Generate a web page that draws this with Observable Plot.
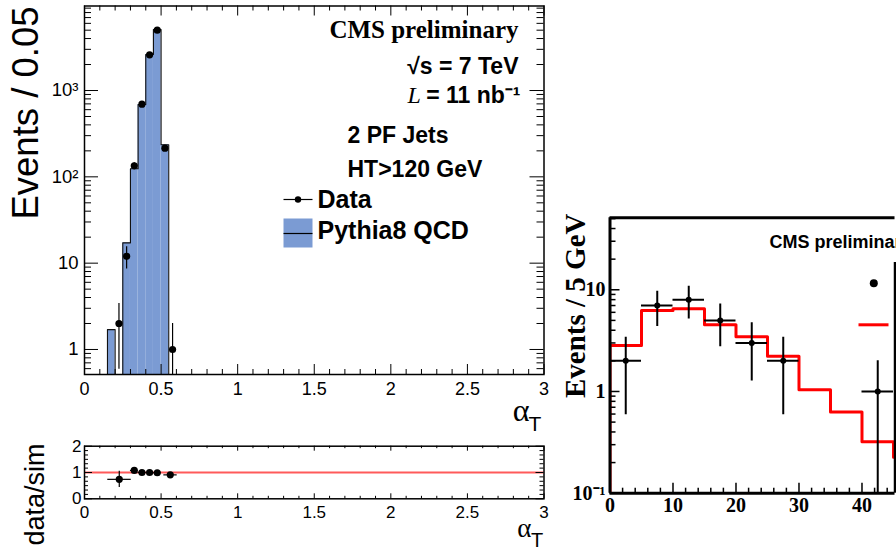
<!DOCTYPE html>
<html><head><meta charset="utf-8">
<script src="https://cdn.jsdelivr.net/npm/d3@7"></script>
<script src="https://cdn.jsdelivr.net/npm/@observablehq/plot@0.6"></script>
<style>
html,body{margin:0;padding:0;background:#fff;}
#wrap{position:relative;width:896px;height:550px;overflow:hidden;background:#fff;}
#wrap svg{position:absolute;left:0;top:0;}
</style></head><body><div id="wrap"></div>
<script>
// ---------------- data: main alpha_T histogram ----------------
const mcBinLow   = [0.15, 0.20, 0.25, 0.30, 0.35, 0.40, 0.45, 0.50];
const mcCounts   = [1.7, 0, 17.2, 124, 689, 2610, 5090, 235];
const binWidth   = 0.05;
const dataAlpha  = [0.225, 0.275, 0.325, 0.375, 0.425, 0.475, 0.525, 0.575];
const dataCounts = [2, 12, 134, 694, 2590, 5000, 215, 1];
const dataErr    = [1.41, 3.46, 11.6, 26.3, 50.9, 70.7, 14.7, 1.0];
// ---------------- data: ratio panel ----------------
const ratioX    = [0.227, 0.325, 0.375, 0.425, 0.475, 0.56];
const ratioY    = [0.74, 1.08, 1.0, 1.0, 0.99, 0.91];
const ratioYErr = [0.31, 0.1, 0.04, 0.02, 0.015, 0.06];
const ratioXLo  = [0.152, 0.30, 0.35, 0.40, 0.45, 0.518];
const ratioXHi  = [0.305, 0.35, 0.40, 0.45, 0.50, 0.605];
// ---------------- data: right panel (Events / 5 GeV) ----------------
const rBinLow   = [0, 5, 10, 15, 20, 25, 30, 35, 40, 45];
const rMC       = [2.83, 6.25, 6.5, 4.53, 3.45, 2.22, 1.04, 0.627, 0.32, 0.226];
const rBinWidth = 5;
const rDataX    = [2.5, 7.5, 12.5, 17.5, 22.5, 27.5, 42.5];
const rDataY    = [2, 7, 8, 5, 3, 2, 1];
const rDataErr  = [1.41, 2.65, 2.83, 2.24, 1.73, 1.41, 1.0];
// ---------------- tick labels ----------------
const xTicksMain = [0, 0.5, 1, 1.5, 2, 2.5, 3];
const xTickLabelsMain = ["0", "0.5", "1", "1.5", "2", "2.5", "3"];
const yTicksMain = [1, 10, 100, 1000];
const yTickLabelsMain = ["1", "10", "10²", "10³"];
const yTicksRatio = [0, 1, 2];
const yTickLabelsRatio = ["0", "1", "2"];
const xTicksRight = [0, 10, 20, 30, 40];
const xTickLabelsRight = ["0", "10", "20", "30", "40"];
const yTicksRight = [0.1, 1, 10];
const yTickLabelsRight = ["10⁻¹", "1", "10"];

// ---------------- styling ----------------
const W = 896, H = 550;
const sans = "'Liberation Sans', Arial, Helvetica, sans-serif";
const serif = "'Liberation Serif', 'Times New Roman', serif";
const blue = "#7b9bd3";
const svgStyle = "position:absolute;left:0;top:0;background:transparent;max-width:none;overflow:hidden;";
const wrap = document.getElementById("wrap");

function logMinor(lo, hi) {
  const out = [];
  for (let e = -2; e <= 4; e++) for (let m = 2; m <= 9; m++) {
    const v = m * Math.pow(10, e);
    if (v > lo && v < hi) out.push(v);
  }
  return out;
}
function linTicks(lo, hi, step, skip) {
  const out = [];
  const n = Math.round((hi - lo) / step);
  for (let i = 0; i <= n; i++) {
    const v = +(lo + i * step).toFixed(6);
    if (!skip || !skip.some(s => Math.abs(s - v) < 1e-9)) out.push(v);
  }
  return out;
}
const hLine = w => ({draw(ctx) { ctx.moveTo(-w / 2, 0); ctx.lineTo(w / 2, 0); }});
const boxSym = (w, h) => ({draw(ctx) { ctx.rect(-w / 2, -h / 2, w, h); }});
const txt = d => d;

// ================= MAIN PANEL =================
{
  const L = 84, R = 543.5, T = 5.5, B = 374;
  const fw = R - L, fh = B - T;
  const yMin = 0.513, yMax = 9530;
  const bins = mcBinLow.map((lo, i) => ({lo, hi: lo + binWidth, v: mcCounts[i]})).filter(d => d.v > 0);
  const outline = [{x: mcBinLow[0], y: yMin}]
    .concat(mcBinLow.map((lo, i) => ({x: lo, y: mcCounts[i] > 0 ? mcCounts[i] : yMin})))
    .concat([{x: mcBinLow[mcBinLow.length - 1] + binWidth, y: yMin}]);
  const pts = dataAlpha.map((x, i) => ({x, y: dataCounts[i],
    lo: Math.max(dataCounts[i] - dataErr[i], yMin), hi: dataCounts[i] + dataErr[i]}));
  const xMinor = linTicks(0, 3, 0.1, xTicksMain);
  const yMinor = logMinor(yMin, yMax);
  const yLab = yTicksMain.map((v, i) => ({v, t: yTickLabelsMain[i]}));
  const xLab = xTicksMain.map((v, i) => ({v, t: xTickLabelsMain[i]}));
  const svg = Plot.plot({
    width: W, height: H,
    marginLeft: L, marginRight: W - R, marginTop: T, marginBottom: H - B,
    x: {domain: [0, 3], axis: null},
    y: {type: "log", domain: [yMin, yMax], axis: null},
    style: svgStyle,
    marks: [
      Plot.rect(bins, {x1: "lo", x2: "hi", y1: () => yMin, y2: "v", fill: blue, clip: true}),
      Plot.line(outline, {x: "x", y: "y", curve: "step-after", stroke: "#111", strokeWidth: 1.1, clip: true}),
      Plot.ruleX(pts, {x: "x", y1: "lo", y2: "hi", stroke: "black", strokeWidth: 1.2, clip: true}),
      Plot.dot(pts, {x: "x", y: "y", r: 3.6, fill: "black", clip: true}),
      // ticks (inward)
      Plot.ruleX(xTicksMain, {insetTop: fh - 10, stroke: "black"}),
      Plot.ruleX(xMinor, {insetTop: fh - 5, stroke: "black"}),
      Plot.ruleX(xTicksMain, {insetBottom: fh - 10, stroke: "black"}),
      Plot.ruleX(xMinor, {insetBottom: fh - 5, stroke: "black"}),
      Plot.ruleY(yTicksMain, {insetRight: fw - 14, stroke: "black"}),
      Plot.ruleY(yMinor, {insetRight: fw - 7, stroke: "black"}),
      Plot.ruleY(yTicksMain, {insetLeft: fw - 14, stroke: "black"}),
      Plot.ruleY(yMinor, {insetLeft: fw - 7, stroke: "black"}),
      Plot.frame({stroke: "black", strokeWidth: 1.5}),
      // tick labels
      Plot.text(xLab, {x: "v", text: "t", frameAnchor: "bottom", dy: 15, lineAnchor: "middle", fontSize: 18, fontFamily: sans, fill: "black"}),
      Plot.text(yLab, {y: "v", text: "t", frameAnchor: "left", dx: -6, textAnchor: "end", lineAnchor: "middle", fontSize: 18.5, fontFamily: sans, fill: "black"}),
      // axis titles
      Plot.text(["Events / 0.05"], {text: txt, frameAnchor: "top-left", dx: 37.5 - L, dy: 6 - T, rotate: -90, textAnchor: "end", lineAnchor: "bottom", fontSize: 36.5, fontFamily: sans, fill: "black"}),
      Plot.text(["α"], {text: txt, frameAnchor: "bottom-right", dx: 529 - R, dy: 420 - B, textAnchor: "end", lineAnchor: "bottom", fontSize: 32, fontFamily: serif, fill: "black"}),
      Plot.text(["T"], {text: txt, frameAnchor: "bottom-right", dx: 528 - R, dy: 430 - B, textAnchor: "start", lineAnchor: "bottom", fontSize: 21, fontFamily: sans, fill: "black"}),
      // annotations
      Plot.text(["CMS preliminary"], {text: txt, frameAnchor: "top-right", dx: 518 - R, dy: 37.5 - T, textAnchor: "end", lineAnchor: "bottom", fontSize: 25, fontWeight: "bold", fontFamily: serif, fill: "black"}),
      Plot.text(["√s = 7 TeV"], {text: txt, frameAnchor: "top-right", dx: 518 - R, dy: 73 - T, textAnchor: "end", lineAnchor: "bottom", fontSize: 23, fontWeight: "bold", fontFamily: sans, fill: "black"}),
      Plot.text(["L"], {text: txt, frameAnchor: "top-left", dx: 407 - L, dy: 102 - T, textAnchor: "start", lineAnchor: "bottom", fontSize: 24, fontStyle: "italic", fontFamily: serif, fill: "black"}),
      Plot.text(["= 11 nb⁻¹"], {text: txt, frameAnchor: "top-right", dx: 520 - R, dy: 102 - T, textAnchor: "end", lineAnchor: "bottom", fontSize: 23, fontWeight: "bold", fontFamily: sans, fill: "black"}),
      Plot.text(["2 PF Jets"], {text: txt, frameAnchor: "top-left", dx: 347 - L, dy: 142 - T, textAnchor: "start", lineAnchor: "bottom", fontSize: 23, fontWeight: "bold", fontFamily: sans, fill: "black"}),
      Plot.text(["HT>120 GeV"], {text: txt, frameAnchor: "top-left", dx: 347 - L, dy: 176 - T, textAnchor: "start", lineAnchor: "bottom", fontSize: 23, fontWeight: "bold", fontFamily: sans, fill: "black"}),
      // legend
      Plot.dot([0], {frameAnchor: "top-left", dx: 297.5 - L, dy: 199 - T, symbol: hLine(29), stroke: "black", strokeWidth: 1.2, fill: "none"}),
      Plot.dot([0], {frameAnchor: "top-left", dx: 297.5 - L, dy: 199 - T, r: 3.2, fill: "black", stroke: "none"}),
      Plot.text(["Data"], {text: txt, frameAnchor: "top-left", dx: 317 - L, dy: 207.5 - T, textAnchor: "start", lineAnchor: "bottom", fontSize: 25, fontWeight: "bold", fontFamily: sans, fill: "black"}),
      Plot.dot([0], {frameAnchor: "top-left", dx: 297.5 - L, dy: 232.5 - T, symbol: boxSym(29, 29), fill: blue, stroke: "none"}),
      Plot.dot([0], {frameAnchor: "top-left", dx: 297.5 - L, dy: 233 - T, symbol: hLine(29), stroke: "black", strokeWidth: 1.2, fill: "none"}),
      Plot.text(["Pythia8 QCD"], {text: txt, frameAnchor: "top-left", dx: 317 - L, dy: 238 - T, textAnchor: "start", lineAnchor: "bottom", fontSize: 25, fontWeight: "bold", fontFamily: sans, fill: "black"})
    ]
  });
  wrap.appendChild(svg);
}

// ================= RATIO PANEL =================
{
  const L = 84, R = 543.5, T = 445.7, B = 498.3;
  const fw = R - L, fh = B - T;
  const pts = ratioX.map((x, i) => ({x, y: ratioY[i], lo: ratioY[i] - ratioYErr[i], hi: ratioY[i] + ratioYErr[i], xl: ratioXLo[i], xh: ratioXHi[i]}));
  const xMinor = linTicks(0, 3, 0.1, xTicksMain);
  const yMinor = linTicks(0, 2, 1 / 6, yTicksRatio);
  const xLab = xTicksMain.map((v, i) => ({v, t: xTickLabelsMain[i]}));
  const yLab = yTicksRatio.map((v, i) => ({v, t: yTickLabelsRatio[i]}));
  const svg = Plot.plot({
    width: W, height: H,
    marginLeft: L, marginRight: W - R, marginTop: T, marginBottom: H - B,
    x: {domain: [0, 3], axis: null},
    y: {domain: [0, 2], axis: null},
    style: svgStyle,
    marks: [
      Plot.ruleY([1], {stroke: "#ff5a5a", strokeWidth: 2}),
      Plot.ruleX(pts, {x: "x", y1: "lo", y2: "hi", stroke: "black", strokeWidth: 1.2}),
      Plot.ruleY(pts, {y: "y", x1: "xl", x2: "xh", stroke: "black", strokeWidth: 1.2}),
      Plot.dot(pts, {x: "x", y: "y", r: 3.6, fill: "black"}),
      Plot.ruleX(xTicksMain, {insetTop: fh - 5, stroke: "black"}),
      Plot.ruleX(xMinor, {insetTop: fh - 2.5, stroke: "black"}),
      Plot.ruleX(xTicksMain, {insetBottom: fh - 5, stroke: "black"}),
      Plot.ruleX(xMinor, {insetBottom: fh - 2.5, stroke: "black"}),
      Plot.ruleY(yTicksRatio, {insetRight: fw - 8, stroke: "black"}),
      Plot.ruleY(yMinor, {insetRight: fw - 4, stroke: "black"}),
      Plot.ruleY(yTicksRatio, {insetLeft: fw - 8, stroke: "black"}),
      Plot.ruleY(yMinor, {insetLeft: fw - 4, stroke: "black"}),
      Plot.frame({stroke: "black", strokeWidth: 1.5}),
      Plot.text(xLab, {x: "v", text: "t", frameAnchor: "bottom", dy: 13.4, lineAnchor: "middle", fontSize: 17, fontFamily: sans, fill: "black"}),
      Plot.text(yLab, {y: "v", text: "t", frameAnchor: "left", dx: -3, textAnchor: "end", lineAnchor: "middle", fontSize: 17, fontFamily: sans, fill: "black"}),
      Plot.text(["data/sim"], {text: txt, frameAnchor: "top-left", dx: 43 - L, dy: 443 - T, rotate: -90, textAnchor: "end", lineAnchor: "bottom", fontSize: 27, fontFamily: sans, fill: "black"}),
      Plot.text(["α"], {text: txt, frameAnchor: "bottom-right", dx: 531 - R, dy: 536.7 - B, textAnchor: "end", lineAnchor: "bottom", fontSize: 27, fontFamily: serif, fill: "black"}),
      Plot.text(["T"], {text: txt, frameAnchor: "bottom-right", dx: 530.5 - R, dy: 546.7 - B, textAnchor: "start", lineAnchor: "bottom", fontSize: 20, fontFamily: sans, fill: "black"})
    ]
  });
  wrap.appendChild(svg);
}

// ================= RIGHT PANEL =================
{
  const L = 609.5, R = 894.5, T = 217.3, B = 492.7;
  const fw = R - L, fh = B - T;
  const yMin = 0.1, yMax = 51, xMax = 45.24;
  const step = [{x: 0, y: yMin}]
    .concat(rBinLow.map((lo, i) => ({x: lo, y: rMC[i]})))
    .concat([{x: rBinLow[rBinLow.length - 1] + rBinWidth, y: rMC[rMC.length - 1]}]);
  const pts = rDataX.map((x, i) => ({x, y: rDataY[i], lo: Math.max(rDataY[i] - rDataErr[i], yMin), hi: rDataY[i] + rDataErr[i],
    xl: x - rBinWidth / 2, xh: x + rBinWidth / 2}));
  const xMinor = linTicks(0, 44, 2, xTicksRight);
  const yMinor = logMinor(yMin, yMax);
  const xLab = xTicksRight.map((v, i) => ({v, t: xTickLabelsRight[i]}));
  const yLab = yTicksRight.map((v, i) => ({v, t: yTickLabelsRight[i]}));
  const svg = Plot.plot({
    width: W, height: H,
    marginLeft: L, marginRight: W - R, marginTop: T, marginBottom: H - B,
    x: {domain: [0, xMax], axis: null},
    y: {type: "log", domain: [yMin, yMax], axis: null},
    style: svgStyle,
    marks: [
      Plot.line(step, {x: "x", y: "y", curve: "step-after", stroke: "#ff0000", strokeWidth: 3, clip: true}),
      Plot.ruleX(pts, {x: "x", y1: "lo", y2: "hi", stroke: "black", strokeWidth: 2, clip: true}),
      Plot.ruleY(pts, {y: "y", x1: "xl", x2: "xh", stroke: "black", strokeWidth: 2, clip: true}),
      Plot.dot(pts, {x: "x", y: "y", r: 3, fill: "black", clip: true}),
      // ticks
      Plot.ruleX(xTicksRight, {insetTop: fh - 10, stroke: "black", strokeWidth: 1.5}),
      Plot.ruleX(xMinor, {insetTop: fh - 5, stroke: "black", strokeWidth: 1.5}),
      Plot.ruleY(yTicksRight, {insetRight: fw - 10, stroke: "black", strokeWidth: 1.5}),
      Plot.ruleY(yMinor, {insetRight: fw - 6, stroke: "black", strokeWidth: 1.5}),
      // frame (right edge partly hidden by the text box)
      Plot.ruleX([0], {stroke: "black", strokeWidth: 3}),
      Plot.ruleY([yMin], {stroke: "black", strokeWidth: 3}),
      Plot.ruleY([yMax], {stroke: "black", strokeWidth: 3}),
      Plot.ruleX([xMax], {insetTop: 262 - T, stroke: "black", strokeWidth: 2.5}),
      // labels
      Plot.text(xLab, {x: "v", text: "t", frameAnchor: "bottom", dy: 12.5, lineAnchor: "middle", fontSize: 20, fontWeight: "bold", fontFamily: serif, fill: "black"}),
      Plot.text(yLab, {y: "v", text: "t", frameAnchor: "left", dx: -4.5, textAnchor: "end", lineAnchor: "middle", fontSize: 20, fontWeight: "bold", fontFamily: serif, fill: "black"}),
      Plot.text(["Events / 5 GeV"], {text: txt, frameAnchor: "top-left", dx: 584 - L, dy: 213 - T, rotate: -90, textAnchor: "end", lineAnchor: "bottom", fontSize: 29, fontWeight: "bold", fontFamily: serif, fill: "black"}),
      Plot.text(["CMS preliminary"], {text: txt, frameAnchor: "top-left", dx: 769 - L, dy: 247 - T, textAnchor: "start", lineAnchor: "bottom", fontSize: 18, fontWeight: "bold", fontFamily: sans, fill: "black"}),
      // legend glyphs
      Plot.dot([0], {frameAnchor: "top-left", dx: 873.3 - L, dy: 282.7 - T, r: 4, fill: "black", stroke: "none"}),
      Plot.dot([0], {frameAnchor: "top-left", dx: 873 - L, dy: 324.3 - T, symbol: hLine(30), stroke: "#ff0000", strokeWidth: 3, fill: "none"})
    ]
  });
  wrap.appendChild(svg);
}
</script></body></html>
